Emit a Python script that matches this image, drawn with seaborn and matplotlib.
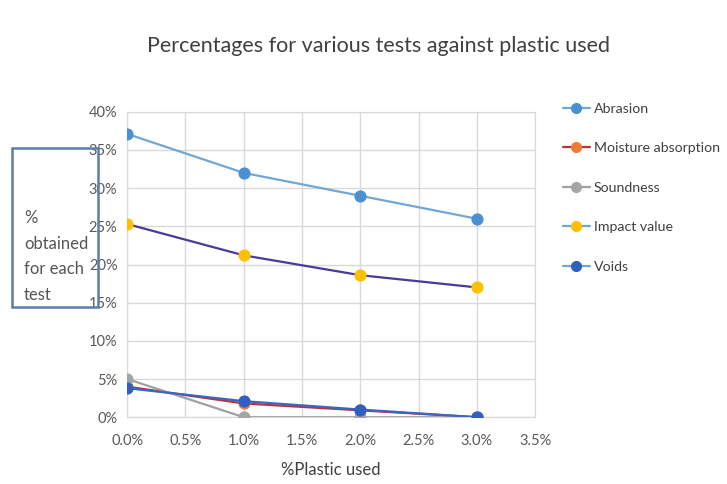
import matplotlib
matplotlib.use("Agg")
import matplotlib.pyplot as plt
import seaborn as sns
import pandas as pd
from matplotlib.lines import Line2D
from matplotlib.patches import Rectangle

plastic = [0.0, 1.0, 2.0, 3.0]
abrasion = [37.1, 32.0, 29.0, 26.0]
moisture = [4.0, 1.8, 0.9, 0.0]
soundness = [5.0, 0.0, 0.0, 0.0]
impact = [25.3, 21.2, 18.6, 17.0]
voids = [3.8, 2.1, 1.0, 0.0]

series = ["Abrasion", "Moisture absorption", "Soundness", "Impact value", "Voids"]
values = [abrasion, moisture, soundness, impact, voids]
line_cols = ["#6fa8d6", "#b8343a", "#a0a0a0", "#4b3a9a", "#3a66c0"]
mark_cols = ["#4a90d0", "#ed7d31", "#a5a5a5", "#ffc000", "#2f5fc0"]
leg_line = ["#6fa8d6", "#b8343a", "#a0a0a0", "#6fa8d6", "#6fa8d6"]

sns.set_style("white")
plt.rcParams['font.family'] = ['Lato', 'DejaVu Sans']

fig = plt.figure(figsize=(7.27, 4.84), dpi=100)
ax = fig.add_axes([0.175, 0.138, 0.561, 0.631])

for name, vals, lc, mc in zip(series, values, line_cols, mark_cols):
    d = pd.DataFrame({"x": plastic, "y": vals})
    sns.lineplot(data=d, x="x", y="y", ax=ax, color=lc, linewidth=1.6,
                 marker="o", markersize=8, markerfacecolor=mc,
                 markeredgecolor=mc, zorder=3)

ax.set_xlim(0, 3.5)
ax.set_ylim(0, 40)
ax.set_xticks([i * 0.5 for i in range(8)])
ax.set_xticklabels([f"{i * 0.5:.1f}%" for i in range(8)])
ax.set_yticks(range(0, 45, 5))
ax.set_yticklabels([f"{v}%" for v in range(0, 45, 5)])
ax.grid(True, color="#d9d9d9", linewidth=1)
for s in ax.spines.values():
    s.set_color("#d9d9d9")
ax.tick_params(colors="#595959", labelsize=10.5, length=0)
ax.tick_params(axis="x", pad=12)
ax.tick_params(axis="y", pad=7)
ax.set_xlabel("%Plastic used", fontsize=12, color="#404040", labelpad=10)
ax.set_ylabel("")

fig.text(0.52, 0.905, "Percentages for various tests against plastic used",
         ha="center", va="center", fontsize=15.5, color="#404040")

handles = [Line2D([0], [0], color=lc, lw=1.6, marker="o", markersize=7,
                  markerfacecolor=mc, markeredgecolor=mc)
           for lc, mc in zip(leg_line, mark_cols)]
fig.legend(handles, series, loc="upper left", bbox_to_anchor=(0.768, 0.797),
           frameon=False, fontsize=10.2, labelcolor="#404040",
           labelspacing=1.95, handlelength=1.9, handletextpad=0.3,
           borderaxespad=0, borderpad=0.3)

fig.patches.append(Rectangle((12 / 727, 1 - 307 / 484), 86 / 727, 159 / 484,
                             transform=fig.transFigure, fill=False,
                             edgecolor="#5a7fa8", linewidth=1.8, zorder=5))
fig.text(0.033, 0.47, "%\nobtained\nfor each\ntest", ha="left", va="center",
         fontsize=12, color="#555555", linespacing=1.75)

fig.savefig("out.png", dpi=100)
